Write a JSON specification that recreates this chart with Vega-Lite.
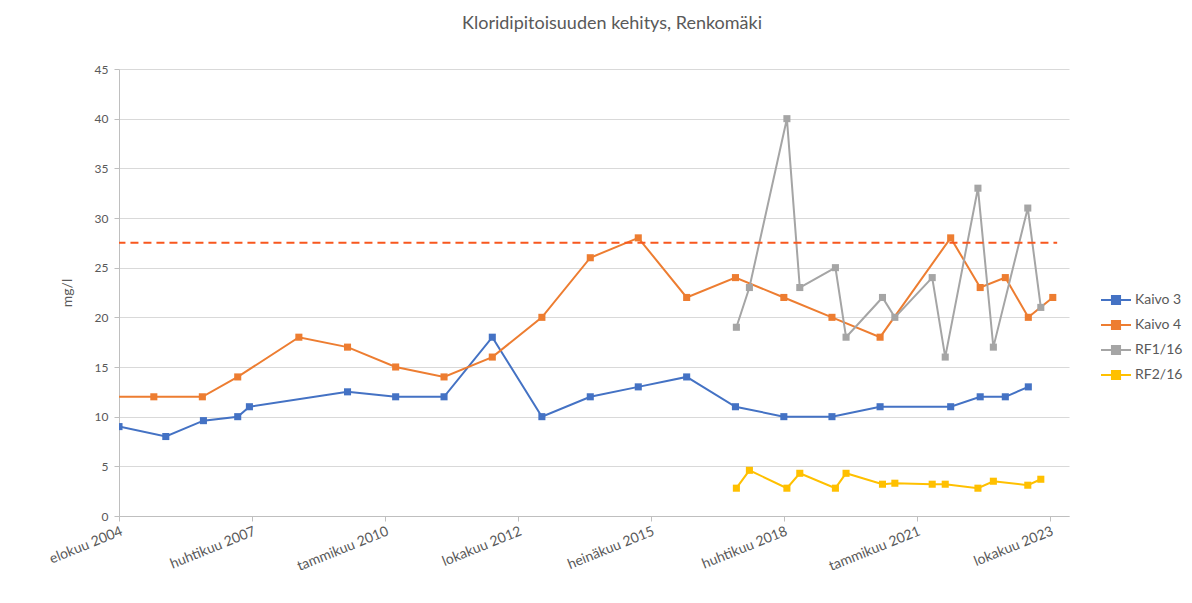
{
  "$schema": "https://vega.github.io/schema/vega-lite/v6.json",
  "width": 950,
  "height": 447,
  "autosize": {"type": "none"},
  "padding": {"left": 119, "top": 69, "right": 123, "bottom": 87},
  "background": "white",
  "title": {
    "text": "Kloridipitoisuuden kehitys, Renkomäki",
    "fontSize": 18,
    "font": "Lato",
    "fontWeight": "normal",
    "color": "#595959",
    "anchor": "middle",
    "offset": 30,
    "dx": 18
  },
  "datasets": {
    "limit": [
      {"pvm": "2003-10-01", "raja": 27.5},
      {"pvm": "2023-11-27", "raja": 27.5}
    ],
    "series": [
      {"pvm": "2004-08-01", "sarja": "Kaivo 3", "kloridi": 9},
      {"pvm": "2005-07-19", "sarja": "Kaivo 3", "kloridi": 8},
      {"pvm": "2006-04-28", "sarja": "Kaivo 3", "kloridi": 9.6},
      {"pvm": "2007-01-11", "sarja": "Kaivo 3", "kloridi": 10},
      {"pvm": "2007-04-09", "sarja": "Kaivo 3", "kloridi": 11},
      {"pvm": "2009-04-16", "sarja": "Kaivo 3", "kloridi": 12.5},
      {"pvm": "2010-04-13", "sarja": "Kaivo 3", "kloridi": 12},
      {"pvm": "2011-04-12", "sarja": "Kaivo 3", "kloridi": 12},
      {"pvm": "2012-04-09", "sarja": "Kaivo 3", "kloridi": 18},
      {"pvm": "2013-04-17", "sarja": "Kaivo 3", "kloridi": 10},
      {"pvm": "2014-04-16", "sarja": "Kaivo 3", "kloridi": 12},
      {"pvm": "2015-04-12", "sarja": "Kaivo 3", "kloridi": 13},
      {"pvm": "2016-04-10", "sarja": "Kaivo 3", "kloridi": 14},
      {"pvm": "2017-04-12", "sarja": "Kaivo 3", "kloridi": 11},
      {"pvm": "2018-04-11", "sarja": "Kaivo 3", "kloridi": 10},
      {"pvm": "2019-04-08", "sarja": "Kaivo 3", "kloridi": 10},
      {"pvm": "2020-04-04", "sarja": "Kaivo 3", "kloridi": 11},
      {"pvm": "2021-09-17", "sarja": "Kaivo 3", "kloridi": 11},
      {"pvm": "2022-04-27", "sarja": "Kaivo 3", "kloridi": 12},
      {"pvm": "2022-11-02", "sarja": "Kaivo 3", "kloridi": 12},
      {"pvm": "2023-04-24", "sarja": "Kaivo 3", "kloridi": 13},

      {"pvm": "2004-06-01", "sarja": "Kaivo 4", "kloridi": 12},
      {"pvm": "2005-04-20", "sarja": "Kaivo 4", "kloridi": 12},
      {"pvm": "2006-04-20", "sarja": "Kaivo 4", "kloridi": 12},
      {"pvm": "2007-01-11", "sarja": "Kaivo 4", "kloridi": 14},
      {"pvm": "2008-04-15", "sarja": "Kaivo 4", "kloridi": 18},
      {"pvm": "2009-04-16", "sarja": "Kaivo 4", "kloridi": 17},
      {"pvm": "2010-04-13", "sarja": "Kaivo 4", "kloridi": 15},
      {"pvm": "2011-04-12", "sarja": "Kaivo 4", "kloridi": 14},
      {"pvm": "2012-04-09", "sarja": "Kaivo 4", "kloridi": 16},
      {"pvm": "2013-04-17", "sarja": "Kaivo 4", "kloridi": 20},
      {"pvm": "2014-04-16", "sarja": "Kaivo 4", "kloridi": 26},
      {"pvm": "2015-04-12", "sarja": "Kaivo 4", "kloridi": 28},
      {"pvm": "2016-04-10", "sarja": "Kaivo 4", "kloridi": 22},
      {"pvm": "2017-04-12", "sarja": "Kaivo 4", "kloridi": 24},
      {"pvm": "2018-04-11", "sarja": "Kaivo 4", "kloridi": 22},
      {"pvm": "2019-04-08", "sarja": "Kaivo 4", "kloridi": 20},
      {"pvm": "2020-04-04", "sarja": "Kaivo 4", "kloridi": 18},
      {"pvm": "2021-09-17", "sarja": "Kaivo 4", "kloridi": 28},
      {"pvm": "2022-04-27", "sarja": "Kaivo 4", "kloridi": 23},
      {"pvm": "2022-11-02", "sarja": "Kaivo 4", "kloridi": 24},
      {"pvm": "2023-04-24", "sarja": "Kaivo 4", "kloridi": 20},
      {"pvm": "2023-10-25", "sarja": "Kaivo 4", "kloridi": 22},

      {"pvm": "2017-04-19", "sarja": "RF1/16", "kloridi": 19},
      {"pvm": "2017-07-26", "sarja": "RF1/16", "kloridi": 23},
      {"pvm": "2018-05-04", "sarja": "RF1/16", "kloridi": 40},
      {"pvm": "2018-08-09", "sarja": "RF1/16", "kloridi": 23},
      {"pvm": "2019-05-04", "sarja": "RF1/16", "kloridi": 25},
      {"pvm": "2019-07-23", "sarja": "RF1/16", "kloridi": 18},
      {"pvm": "2020-04-22", "sarja": "RF1/16", "kloridi": 22},
      {"pvm": "2020-07-24", "sarja": "RF1/16", "kloridi": 20},
      {"pvm": "2021-05-01", "sarja": "RF1/16", "kloridi": 24},
      {"pvm": "2021-08-07", "sarja": "RF1/16", "kloridi": 16},
      {"pvm": "2022-04-10", "sarja": "RF1/16", "kloridi": 33},
      {"pvm": "2022-08-04", "sarja": "RF1/16", "kloridi": 17},
      {"pvm": "2023-04-20", "sarja": "RF1/16", "kloridi": 31},
      {"pvm": "2023-07-27", "sarja": "RF1/16", "kloridi": 21},

      {"pvm": "2017-04-19", "sarja": "RF2/16", "kloridi": 2.8},
      {"pvm": "2017-07-26", "sarja": "RF2/16", "kloridi": 4.6},
      {"pvm": "2018-05-04", "sarja": "RF2/16", "kloridi": 2.8},
      {"pvm": "2018-08-09", "sarja": "RF2/16", "kloridi": 4.3},
      {"pvm": "2019-05-04", "sarja": "RF2/16", "kloridi": 2.8},
      {"pvm": "2019-07-23", "sarja": "RF2/16", "kloridi": 4.3},
      {"pvm": "2020-04-22", "sarja": "RF2/16", "kloridi": 3.2},
      {"pvm": "2020-07-24", "sarja": "RF2/16", "kloridi": 3.3},
      {"pvm": "2021-05-01", "sarja": "RF2/16", "kloridi": 3.2},
      {"pvm": "2021-08-07", "sarja": "RF2/16", "kloridi": 3.2},
      {"pvm": "2022-04-10", "sarja": "RF2/16", "kloridi": 2.8},
      {"pvm": "2022-08-04", "sarja": "RF2/16", "kloridi": 3.5},
      {"pvm": "2023-04-20", "sarja": "RF2/16", "kloridi": 3.1},
      {"pvm": "2023-07-27", "sarja": "RF2/16", "kloridi": 3.7}
    ]
  },
  "layer": [
    {
      "data": {"name": "series"},
      "mark": {
        "type": "line",
        "strokeWidth": 2,
        "clip": true,
        "point": {"shape": "square", "size": 50, "filled": true, "opacity": 1}
      },
      "encoding": {
        "x": {
          "field": "pvm",
          "type": "temporal",
          "scale": {
            "domain": [
              {"year": 2004, "month": 8, "date": 1, "utc": true},
              {"year": 2024, "month": 2, "date": 24, "utc": true}
            ]
          },
          "axis": {
            "title": null,
            "grid": false,
            "values": [
              {"year": 2004, "month": 8, "date": 1, "utc": true},
              {"year": 2007, "month": 4, "date": 28, "utc": true},
              {"year": 2010, "month": 1, "date": 22, "utc": true},
              {"year": 2012, "month": 10, "date": 18, "utc": true},
              {"year": 2015, "month": 7, "date": 15, "utc": true},
              {"year": 2018, "month": 4, "date": 10, "utc": true},
              {"year": 2021, "month": 1, "date": 4, "utc": true},
              {"year": 2023, "month": 10, "date": 1, "utc": true}
            ],
            "labelExpr": "['tammikuu','helmikuu','maaliskuu','huhtikuu','toukokuu','kesäkuu','heinäkuu','elokuu','syyskuu','lokakuu','marraskuu','joulukuu'][utcmonth(datum.value)] + ' ' + utcyear(datum.value)",
            "labelAngle": -22,
            "labelAlign": "right",
            "labelBaseline": "top",
            "labelFontSize": 14,
            "labelPadding": 3,
            "labelOverlap": false,
            "labelBound": false,
            "labelFlush": false
          }
        },
        "y": {
          "field": "kloridi",
          "type": "quantitative",
          "scale": {"domain": [0, 45], "nice": false},
          "axis": {
            "title": "mg/l",
            "values": [0, 5, 10, 15, 20, 25, 30, 35, 40, 45],
            "labelFontSize": 12,
            "titleFontSize": 14,
            "titleFontWeight": "normal",
            "titlePadding": 20,
            "tickSize": 5,
            "labelPadding": 6
          }
        },
        "color": {
          "field": "sarja",
          "type": "nominal",
          "scale": {
            "domain": ["Kaivo 3", "Kaivo 4", "RF1/16", "RF2/16"],
            "range": ["#4472C4", "#ED7D31", "#A5A5A5", "#FFC000"]
          },
          "legend": {
            "title": null,
            "orient": "none",
            "legendX": 981,
            "legendY": 215,
            "padding": 0,
            "symbolType": "M-1,0H1M-0.27,-0.27H0.27V0.27H-0.27Z",
            "symbolSize": 900,
            "symbolStrokeWidth": 2,
            "labelFontSize": 14,
            "labelOffset": 3,
            "rowPadding": 0
          }
        }
      }
    },
    {
      "data": {"name": "limit"},
      "mark": {"type": "line", "color": "#F8571E", "strokeWidth": 2, "strokeDash": [8, 5], "strokeCap": "butt", "clip": true},
      "encoding": {
        "x": {"field": "pvm", "type": "temporal"},
        "y": {"field": "raja", "type": "quantitative"}
      }
    }
  ],
  "config": {
    "font": "Lato",
    "view": {"stroke": null},
    "axis": {
      "labelColor": "#595959",
      "titleColor": "#595959",
      "domainColor": "#BFBFBF",
      "tickColor": "#BFBFBF",
      "gridColor": "#D9D9D9",
      "labelFont": "Lato",
      "titleFont": "Lato"
    },
    "legend": {"labelColor": "#595959", "labelFont": "Lato"}
  }
}
